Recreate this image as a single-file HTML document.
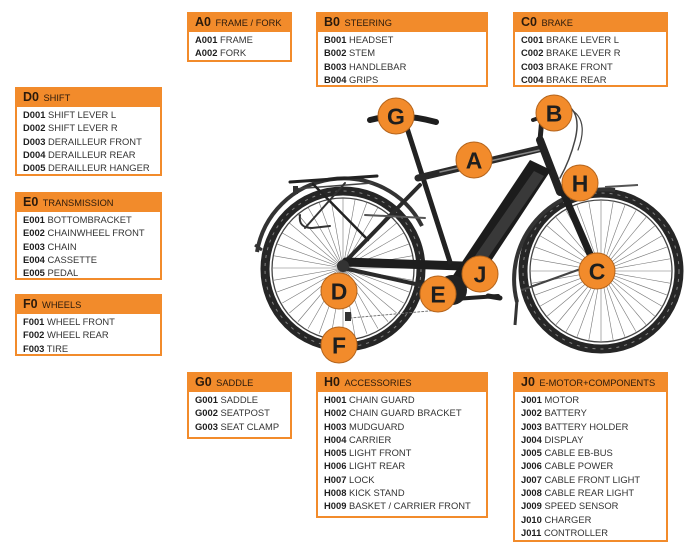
<!DOCTYPE html>
<html><head><meta charset="utf-8">
<style>
html,body{margin:0;padding:0;background:#fff;}
body{width:700px;height:555px;position:relative;overflow:hidden;font-family:"Liberation Sans",Arial,sans-serif;}
.box{position:absolute;border:2px solid #f28b2b;background:#fff;box-sizing:border-box;}
.hd{background:#f28b2b;height:18px;line-height:16px;padding-left:6px;color:#2a1a0c;white-space:nowrap;}
.hd b{font-size:12.5px;}
.hd span{font-size:9.3px;}
.rows{padding:1px 0 0 6px;font-size:9.4px;line-height:13.3px;color:#333;white-space:nowrap;}
.rows b{color:#1e1e1e;}
svg{position:absolute;left:0;top:0;}
</style></head><body>
<svg width="700" height="555" viewBox="0 0 700 555">
  <g stroke="#777" stroke-width="0.6">
    <line x1="273" y1="268" x2="413" y2="268"/>
    <line x1="273" y1="268" x2="413" y2="268" transform="rotate(10 343 268)"/>
    <line x1="273" y1="268" x2="413" y2="268" transform="rotate(20 343 268)"/>
    <line x1="273" y1="268" x2="413" y2="268" transform="rotate(30 343 268)"/>
    <line x1="273" y1="268" x2="413" y2="268" transform="rotate(40 343 268)"/>
    <line x1="273" y1="268" x2="413" y2="268" transform="rotate(50 343 268)"/>
    <line x1="273" y1="268" x2="413" y2="268" transform="rotate(60 343 268)"/>
    <line x1="273" y1="268" x2="413" y2="268" transform="rotate(70 343 268)"/>
    <line x1="273" y1="268" x2="413" y2="268" transform="rotate(80 343 268)"/>
    <line x1="273" y1="268" x2="413" y2="268" transform="rotate(90 343 268)"/>
    <line x1="273" y1="268" x2="413" y2="268" transform="rotate(100 343 268)"/>
    <line x1="273" y1="268" x2="413" y2="268" transform="rotate(110 343 268)"/>
    <line x1="273" y1="268" x2="413" y2="268" transform="rotate(120 343 268)"/>
    <line x1="273" y1="268" x2="413" y2="268" transform="rotate(130 343 268)"/>
    <line x1="273" y1="268" x2="413" y2="268" transform="rotate(140 343 268)"/>
    <line x1="273" y1="268" x2="413" y2="268" transform="rotate(150 343 268)"/>
    <line x1="273" y1="268" x2="413" y2="268" transform="rotate(160 343 268)"/>
    <line x1="273" y1="268" x2="413" y2="268" transform="rotate(170 343 268)"/>
  </g>
  <g stroke="#777" stroke-width="0.6">
    <line x1="531" y1="271" x2="671" y2="271"/>
    <line x1="531" y1="271" x2="671" y2="271" transform="rotate(10 601 271)"/>
    <line x1="531" y1="271" x2="671" y2="271" transform="rotate(20 601 271)"/>
    <line x1="531" y1="271" x2="671" y2="271" transform="rotate(30 601 271)"/>
    <line x1="531" y1="271" x2="671" y2="271" transform="rotate(40 601 271)"/>
    <line x1="531" y1="271" x2="671" y2="271" transform="rotate(50 601 271)"/>
    <line x1="531" y1="271" x2="671" y2="271" transform="rotate(60 601 271)"/>
    <line x1="531" y1="271" x2="671" y2="271" transform="rotate(70 601 271)"/>
    <line x1="531" y1="271" x2="671" y2="271" transform="rotate(80 601 271)"/>
    <line x1="531" y1="271" x2="671" y2="271" transform="rotate(90 601 271)"/>
    <line x1="531" y1="271" x2="671" y2="271" transform="rotate(100 601 271)"/>
    <line x1="531" y1="271" x2="671" y2="271" transform="rotate(110 601 271)"/>
    <line x1="531" y1="271" x2="671" y2="271" transform="rotate(120 601 271)"/>
    <line x1="531" y1="271" x2="671" y2="271" transform="rotate(130 601 271)"/>
    <line x1="531" y1="271" x2="671" y2="271" transform="rotate(140 601 271)"/>
    <line x1="531" y1="271" x2="671" y2="271" transform="rotate(150 601 271)"/>
    <line x1="531" y1="271" x2="671" y2="271" transform="rotate(160 601 271)"/>
    <line x1="531" y1="271" x2="671" y2="271" transform="rotate(170 601 271)"/>
  </g>
  <g fill="none">
    <circle cx="343" cy="269" r="78" stroke="#262626" stroke-width="9"/>
    <circle cx="343" cy="269" r="78" stroke="#aaa" stroke-width="1" stroke-dasharray="3 5" opacity="0.7"/>
    <circle cx="343" cy="269" r="71" stroke="#444" stroke-width="1.3"/>
    <circle cx="601" cy="271" r="78" stroke="#262626" stroke-width="9"/>
    <circle cx="601" cy="271" r="78" stroke="#aaa" stroke-width="1" stroke-dasharray="3 5" opacity="0.7"/>
    <circle cx="601" cy="271" r="71" stroke="#444" stroke-width="1.3"/>
    <path d="M257 252 A88 88 0 0 1 422 226" stroke="#333" stroke-width="4"/>
    <path d="M255 245 L262 250" stroke="#333" stroke-width="3"/>
    <path d="M517 302 A90 90 0 0 1 615 190" stroke="#333" stroke-width="4"/>
    <path d="M517 300 L515 325" stroke="#333" stroke-width="3"/>
    <path d="M605 187 L638 185" stroke="#555" stroke-width="2"/>
  </g>
  <g stroke-linecap="round" fill="none">
    <path d="M290 182 L377 176" stroke="#222" stroke-width="3"/>
    <path d="M294 189 L372 183" stroke="#444" stroke-width="1.5"/>
    <path d="M313 184 L368 240" stroke="#222" stroke-width="2.5"/>
    <path d="M345 183 L305 228" stroke="#333" stroke-width="2"/>
    <path d="M300 215 Q298 228 312 228 L330 226" stroke="#333" stroke-width="2"/>
    <rect x="293" y="186" width="5" height="8" fill="#333" stroke="none"/>
    <path d="M343 264 L420 185" stroke="#2a2a2a" stroke-width="4"/>
    <path d="M365 215 L425 218" stroke="#555" stroke-width="2"/>
    <path d="M346 262 L462 266" stroke="#1e1e1e" stroke-width="9"/>
    <path d="M343 268 L452 292" stroke="#2a2a2a" stroke-width="4"/>
    <path d="M407 128 L450 262" stroke="#222" stroke-width="5"/>
    <path d="M418 178 L543 148" stroke="#2a2a2a" stroke-width="7"/>
    <path d="M440 172 L540 150" stroke="#888" stroke-width="1.5"/>
    <path d="M540 140 L560 192" stroke="#222" stroke-width="8"/>
    <path d="M563 192 L596 268" stroke="#1e1e1e" stroke-width="7"/>
    <path d="M600 262 L522 290" stroke="#444" stroke-width="2"/>
    <path d="M540 140 L542 118" stroke="#222" stroke-width="5"/>
    <path d="M533 120 L562 110" stroke="#222" stroke-width="4"/>
    <path d="M565 104 Q582 112 575 140 Q570 160 560 178" stroke="#444" stroke-width="1.5"/>
    <path d="M568 108 Q590 118 578 150" stroke="#444" stroke-width="1.2"/>
    <path d="M370 120 Q400 112 436 122" stroke="#1e1e1e" stroke-width="6"/>
    <path d="M440 300 L498 296" stroke="#222" stroke-width="4"/>
    <path d="M488 296 L500 298" stroke="#222" stroke-width="5"/>
    <path d="M350 318 L440 310" stroke="#777" stroke-width="1" stroke-dasharray="2 2"/>
    <rect x="345" y="312" width="6" height="9" fill="#333" stroke="none"/>
  </g>
  <polygon points="530,160 551,170 472,290 450,280" fill="#1c1c1c"/>
  <polygon points="534,171 544,176 478,272 468,266" fill="#555" opacity="0.5"/>
  <circle cx="452" cy="290" r="15" fill="#222"/>
  <circle cx="343" cy="266" r="6" fill="#333"/>
  <circle cx="599" cy="270" r="4" fill="#333"/>
  <g fill="#f28b2b" stroke="#b4641c" stroke-width="1">
    <circle cx="396" cy="116" r="18"/>
    <circle cx="554" cy="113" r="18"/>
    <circle cx="474" cy="160" r="18"/>
    <circle cx="580" cy="183" r="18"/>
    <circle cx="597" cy="271" r="18"/>
    <circle cx="480" cy="274" r="18"/>
    <circle cx="438" cy="294" r="18"/>
    <circle cx="339" cy="291" r="18"/>
    <circle cx="339" cy="345" r="18"/>
  </g>
  <g font-family="Liberation Sans, Arial, sans-serif" font-weight="bold" font-size="23" fill="#1e1e1e" text-anchor="middle">
    <text x="396" y="124.5">G</text>
    <text x="554" y="121.5">B</text>
    <text x="474" y="168.5">A</text>
    <text x="580" y="191.5">H</text>
    <text x="597" y="279.5">C</text>
    <text x="480" y="282.5">J</text>
    <text x="438" y="302.5">E</text>
    <text x="339" y="299.5">D</text>
    <text x="339" y="353.5">F</text>
  </g>
</svg>

<div class="box" style="left:187px;top:12px;width:105px;height:50px;">
  <div class="hd"><b>A0</b> <span>FRAME / FORK</span></div>
  <div class="rows"><b>A001</b> FRAME<br><b>A002</b> FORK</div>
</div>
<div class="box" style="left:316px;top:12px;width:172px;height:75px;">
  <div class="hd"><b>B0</b> <span>STEERING</span></div>
  <div class="rows"><b>B001</b> HEADSET<br><b>B002</b> STEM<br><b>B003</b> HANDLEBAR<br><b>B004</b> GRIPS</div>
</div>
<div class="box" style="left:513px;top:12px;width:155px;height:75px;">
  <div class="hd"><b>C0</b> <span>BRAKE</span></div>
  <div class="rows"><b>C001</b> BRAKE LEVER L<br><b>C002</b> BRAKE LEVER R<br><b>C003</b> BRAKE FRONT<br><b>C004</b> BRAKE REAR</div>
</div>
<div class="box" style="left:15px;top:87px;width:147px;height:89px;">
  <div class="hd"><b>D0</b> <span>SHIFT</span></div>
  <div class="rows"><b>D001</b> SHIFT LEVER L<br><b>D002</b> SHIFT LEVER R<br><b>D003</b> DERAILLEUR FRONT<br><b>D004</b> DERAILLEUR REAR<br><b>D005</b> DERAILLEUR HANGER</div>
</div>
<div class="box" style="left:15px;top:192px;width:147px;height:88px;">
  <div class="hd"><b>E0</b> <span>TRANSMISSION</span></div>
  <div class="rows"><b>E001</b> BOTTOMBRACKET<br><b>E002</b> CHAINWHEEL FRONT<br><b>E003</b> CHAIN<br><b>E004</b> CASSETTE<br><b>E005</b> PEDAL</div>
</div>
<div class="box" style="left:15px;top:294px;width:147px;height:62px;">
  <div class="hd"><b>F0</b> <span>WHEELS</span></div>
  <div class="rows"><b>F001</b> WHEEL FRONT<br><b>F002</b> WHEEL REAR<br><b>F003</b> TIRE</div>
</div>
<div class="box" style="left:187px;top:372px;width:105px;height:67px;">
  <div class="hd"><b>G0</b> <span>SADDLE</span></div>
  <div class="rows"><b>G001</b> SADDLE<br><b>G002</b> SEATPOST<br><b>G003</b> SEAT CLAMP</div>
</div>
<div class="box" style="left:316px;top:372px;width:172px;height:146px;">
  <div class="hd"><b>H0</b> <span>ACCESSORIES</span></div>
  <div class="rows"><b>H001</b> CHAIN GUARD<br><b>H002</b> CHAIN GUARD BRACKET<br><b>H003</b> MUDGUARD<br><b>H004</b> CARRIER<br><b>H005</b> LIGHT FRONT<br><b>H006</b> LIGHT REAR<br><b>H007</b> LOCK<br><b>H008</b> KICK STAND<br><b>H009</b> BASKET / CARRIER FRONT</div>
</div>
<div class="box" style="left:513px;top:372px;width:155px;height:170px;">
  <div class="hd"><b>J0</b> <span>E-MOTOR+COMPONENTS</span></div>
  <div class="rows"><b>J001</b> MOTOR<br><b>J002</b> BATTERY<br><b>J003</b> BATTERY HOLDER<br><b>J004</b> DISPLAY<br><b>J005</b> CABLE EB-BUS<br><b>J006</b> CABLE POWER<br><b>J007</b> CABLE FRONT LIGHT<br><b>J008</b> CABLE REAR LIGHT<br><b>J009</b> SPEED SENSOR<br><b>J010</b> CHARGER<br><b>J011</b> CONTROLLER</div>
</div>
</body></html>
